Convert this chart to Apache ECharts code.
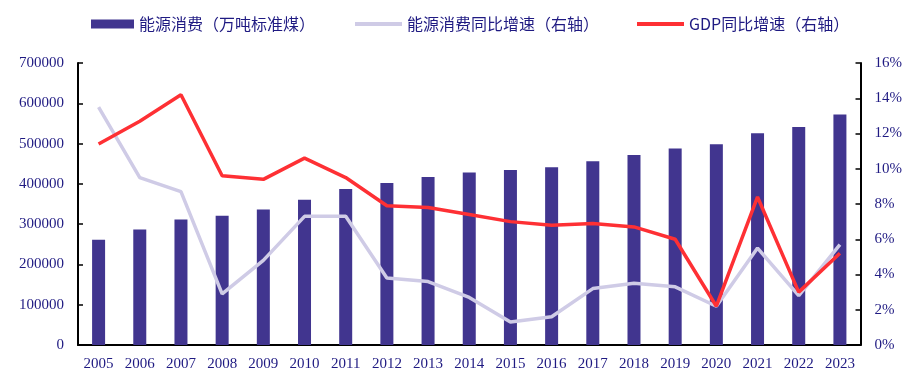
<!DOCTYPE html>
<html><head><meta charset="utf-8">
<script src="https://cdn.jsdelivr.net/npm/echarts@6/dist/echarts.min.js"></script>
<style>html,body{margin:0;padding:0;background:#fff}#c{width:905px;height:376px}</style>
</head><body><div id="c"></div>
<script>
const years = ['2005','2006','2007','2008','2009','2010','2011','2012','2013','2014','2015','2016','2017','2018','2019','2020','2021','2022','2023'];
const energy = [261369,286467,311442,320611,336126,360648,387043,402138,416913,428334,434113,441492,455827,471925,487488,498314,525896,541000,572000];
const energyGrowth = [13.5,9.5,8.7,2.9,4.8,7.3,7.3,3.8,3.6,2.7,1.3,1.6,3.2,3.5,3.3,2.2,5.5,2.8,5.7];
const gdpGrowth = [11.4,12.7,14.2,9.6,9.4,10.6,9.5,7.9,7.8,7.4,7.0,6.8,6.9,6.7,6.0,2.2,8.4,3.0,5.2];
const leftTicks = {min:0, max:700000, interval:100000};
const rightTicks = {min:0, max:16, interval:2};
const names = ['能源消费（万吨标准煤）','能源消费同比增速（右轴）','GDP同比增速（右轴）'];

const txt = '#1f1a82';
const serif = '"Liberation Serif","DejaVu Serif","Noto Sans CJK SC",serif';
const legTxt = {color:txt, fontSize:16, fontFamily:'"Noto Sans CJK SC",serif'};
const chart = echarts.init(document.getElementById('c'));
chart.setOption({
  animation:false,
  backgroundColor:'#fff',
  legend:[
    {left:86, top:11, itemWidth:43, itemHeight:9, icon:'rect', textStyle:legTxt, data:[names[0]]},
    {left:350, top:11, itemWidth:47, itemHeight:4, icon:'rect', textStyle:legTxt, data:[names[1]]},
    {left:632, top:11, itemWidth:47, itemHeight:4, icon:'rect', textStyle:legTxt, data:[names[2]]}
  ],
  grid:{left:78, right:43, top:63, bottom:31},
  xAxis:{
    type:'category', data:years, boundaryGap:true,
    axisLine:{lineStyle:{color:'#000', width:2}},
    axisTick:{inside:true, length:4, lineStyle:{color:'#000', width:1.5}},
    axisLabel:{color:txt, fontSize:15, fontFamily:serif, margin:12}
  },
  yAxis:[{
    type:'value', min:leftTicks.min, max:leftTicks.max, interval:leftTicks.interval,
    axisLine:{show:true, lineStyle:{color:'#000', width:2}},
    axisTick:{show:true, inside:true, length:5, lineStyle:{color:'#000', width:1.5}},
    splitLine:{show:false},
    axisLabel:{color:txt, fontSize:15, fontFamily:serif, margin:14, formatter:v=>String(v)}
  },{
    type:'value', min:rightTicks.min, max:rightTicks.max, interval:rightTicks.interval,
    axisLine:{show:true, lineStyle:{color:'#000', width:2}},
    axisTick:{show:true, inside:true, length:5, lineStyle:{color:'#000', width:1.5}},
    splitLine:{show:false},
    axisLabel:{color:txt, fontSize:15, fontFamily:serif, margin:14, formatter:'{value}%'}
  }],
  series:[
    {name:names[0], type:'bar', data:energy, barWidth:13,
     itemStyle:{color:'#41358f'}},
    {name:names[1], type:'line', yAxisIndex:1, data:energyGrowth,
     symbol:'none', lineStyle:{color:'#cfcbe6', width:3.5}, itemStyle:{color:'#cfcbe6'}},
    {name:names[2], type:'line', yAxisIndex:1, data:gdpGrowth,
     symbol:'none', lineStyle:{color:'#fe3034', width:3.5}, itemStyle:{color:'#fe3034'}}
  ]
});
</script></body></html>
